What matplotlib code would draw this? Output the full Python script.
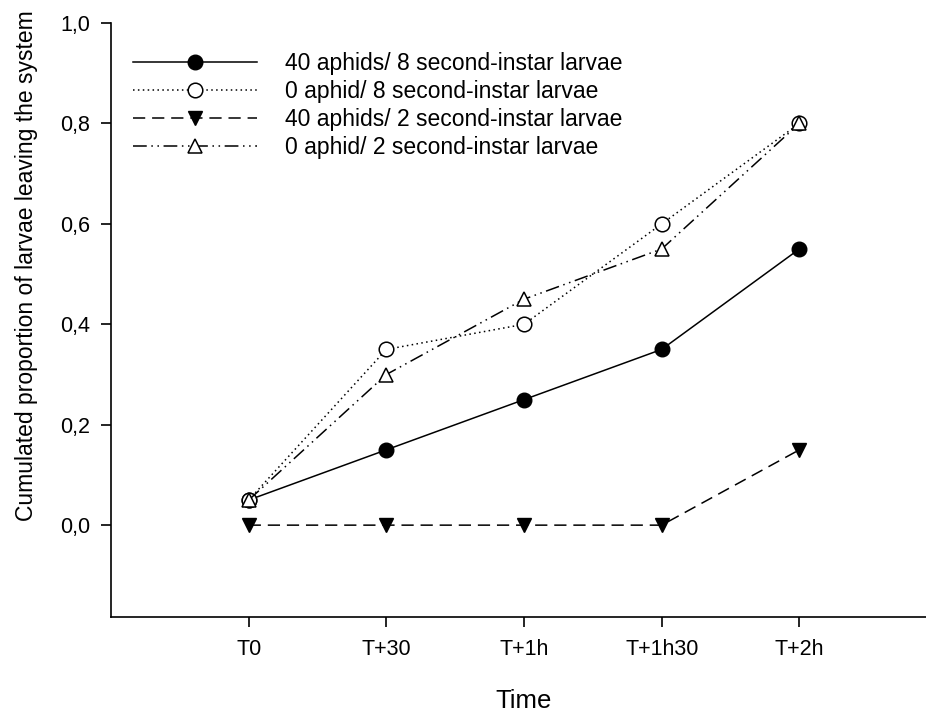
import matplotlib.pyplot as plt
from matplotlib.ticker import FixedLocator

plt.rcParams['font.family'] = ['Liberation Sans', 'DejaVu Sans']

times = ["T0", "T+30", "T+1h", "T+1h30", "T+2h"]
x = list(range(len(times)))

aphids40_l8 = [0.05, 0.15, 0.25, 0.35, 0.55]
aphids0_l8 = [0.05, 0.35, 0.40, 0.60, 0.80]
aphids40_l2 = [0.0, 0.0, 0.0, 0.0, 0.15]
aphids0_l2 = [0.05, 0.30, 0.45, 0.55, 0.80]

labels = [
    "40 aphids/ 8 second-instar larvae",
    "0 aphid/ 8 second-instar larvae",
    "40 aphids/ 2 second-instar larvae",
    "0 aphid/ 2 second-instar larvae",
]
yticks = [0.0, 0.2, 0.4, 0.6, 0.8, 1.0]

fig = plt.figure(figsize=(9.26, 7.13), dpi=100)
ax = fig.add_axes([0.1199, 0.1346, 0.892, 0.8331])

lw = 1.1
ms = 10.5
ax.plot(x, aphids40_l8, color="black", lw=lw, ls="-", marker="o", ms=ms,
        mfc="black", mec="black", label=labels[0])
ax.plot(x, aphids0_l8, color="black", lw=lw, ls=(0, (1, 2.2)), marker="o", ms=ms,
        mfc="white", mec="black", mew=1.1, label=labels[1])
ax.plot(x, aphids40_l2, color="black", lw=lw, ls=(0, (8, 4.5)), marker="v", ms=ms,
        mfc="black", mec="black", label=labels[2])
ax.plot(x, aphids0_l2, color="black", lw=lw, ls=(0, (9, 3, 1, 3, 1, 3)), marker="^", ms=ms,
        mfc="white", mec="black", mew=1.1, label=labels[3])

ax.set_xlim(-1, 5)
ax.set_ylim(-0.183, 1.0)
ax.xaxis.set_major_locator(FixedLocator(x))
ax.set_xticklabels(times)
ax.set_yticks(yticks)
ax.set_yticklabels([f"{v:.1f}".replace(".", ",") for v in yticks])

for side in ["top", "right"]:
    ax.spines[side].set_visible(False)
for side in ["left", "bottom"]:
    ax.spines[side].set_linewidth(1.2)
ax.tick_params(direction="out", length=7, width=1.2, labelsize=15.5)
ax.tick_params(axis="x", pad=9)
ax.tick_params(axis="y", pad=8)

ax.set_xlabel("Time", fontsize=18.5, labelpad=21)
ax.set_ylabel("Cumulated proportion of larvae leaving the system", fontsize=16.5)
# label sits above the axis centre
ax.yaxis.set_label_coords(-0.088, 0.591)

ax.legend(loc="upper left", bbox_to_anchor=(133 / 926, 1 - 52 / 713),
          bbox_transform=fig.transFigure, frameon=False, borderpad=0,
          borderaxespad=0, fontsize=16.5, handlelength=5.4, handletextpad=1.25,
          labelspacing=0.22)

fig.savefig("out.png", dpi=100)
